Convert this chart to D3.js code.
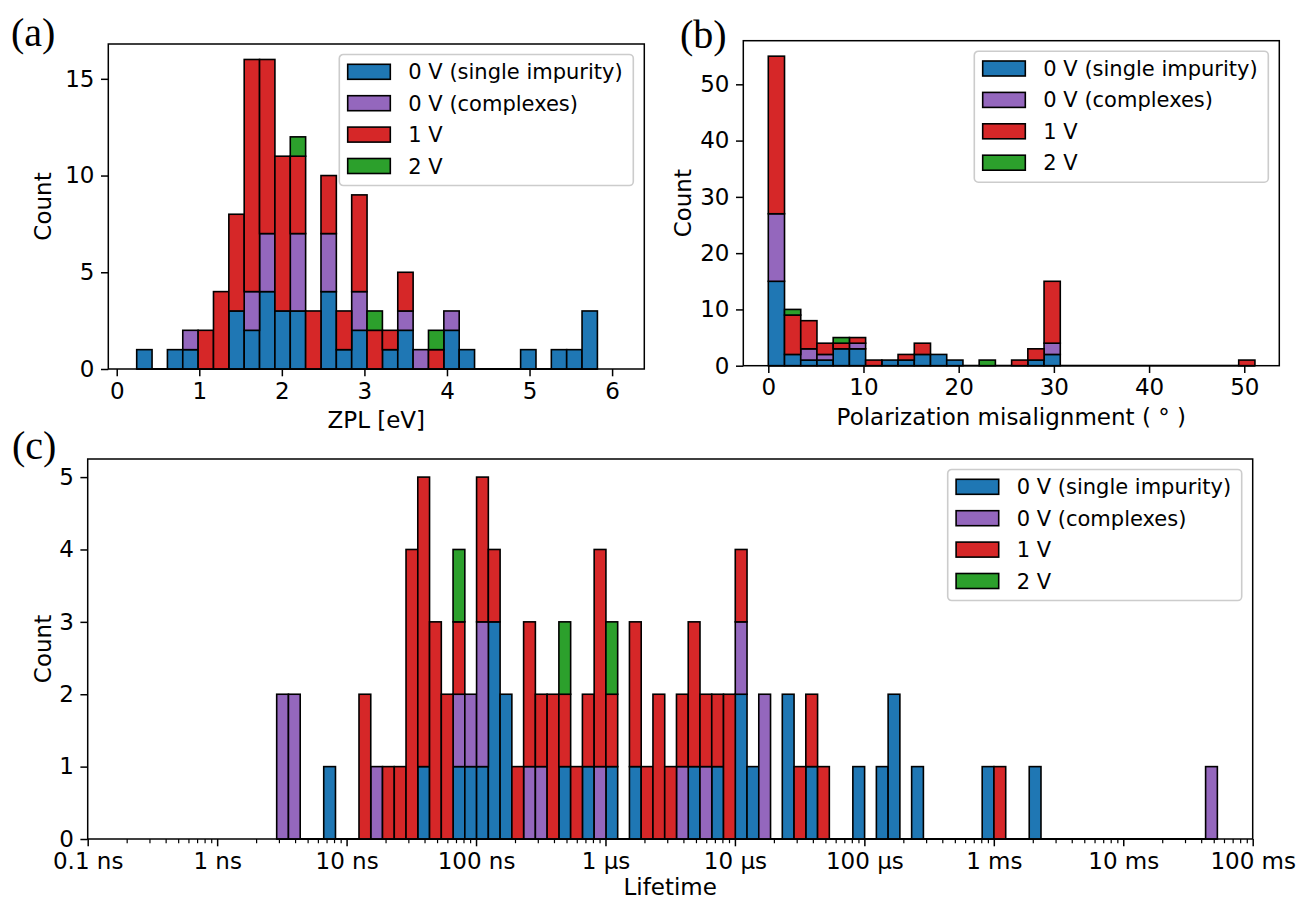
<!DOCTYPE html>
<html>
<head>
<meta charset="utf-8">
<script src="https://cdn.jsdelivr.net/npm/d3@7"></script>
<style>
  body { margin: 0; background: #fff; }
  svg text { font-family: "DejaVu Sans", sans-serif; }
</style>
</head>
<body>
<svg id="fig" width="1301" height="900"></svg>
<script>
// ---- data ----
var SERIES = ["0 V (single impurity)", "0 V (complexes)", "1 V", "2 V"];
var COLORS = ["#1f77b4", "#9467bd", "#d62728", "#2ca02c"];

// (a) ZPL histogram, 30 bins between 0.242 and 5.822 eV
var zplBins = 30, zplLo = 0.242, zplHi = 5.822;
var zplSingle  = [1,0,1,1,0,0,3,2,4,3, 3,0,4,1,2,0,1,2,0,0, 2,1,0,0,0,1,0,1,1,3];
var zplComplex = [0,0,0,1,0,0,0,2,3,0, 4,0,3,0,2,0,0,1,1,0, 1,0,0,0,0,0,0,0,0,0];
var zpl1V      = [0,0,0,0,2,4,5,12,9,8, 4,3,3,2,5,2,1,2,0,1, 0,0,0,0,0,0,0,0,0,0];
var zpl2V      = [0,0,0,0,0,0,0,0,0,0, 1,0,0,0,0,1,0,0,0,1, 0,0,0,0,0,0,0,0,0,0];
var zplXTicks = [0, 1, 2, 3, 4, 5, 6];
var zplYTicks = [0, 5, 10, 15];

// (b) polarization misalignment, 30 bins between 0 and 51.12 deg
var polBins = 30, polLo = 0, polHi = 51.12;
var polSingle  = [15,2,1,1,3,3,0,1,1,2, 2,1,0,0,0,0,1,2,0,0, 0,0,0,0,0,0,0,0,0,0];
var polComplex = [12,0,2,1,0,1,0,0,0,0, 0,0,0,0,0,0,0,2,0,0, 0,0,0,0,0,0,0,0,0,0];
var pol1V      = [28,7,5,2,1,1,1,0,1,2, 0,0,0,0,0,1,2,11,0,0, 0,0,0,0,0,0,0,0,0,1];
var pol2V      = [0,1,0,0,1,0,0,0,0,0, 0,0,0,1,0,0,0,0,0,0, 0,0,0,0,0,0,0,0,0,0];
var polXTicks = [0, 10, 20, 30, 40, 50];
var polYTicks = [0, 10, 20, 30, 40, 50];

// (c) lifetime, 80 log bins between 10^-8.540 s and 10^-1.273 s
var lifeBins = 80, lifeLogLo = -8.540, lifeLogHi = -1.273;
var lifeSingle  = [0,0,0,0,1,0,0,0,0,0, 0,0,1,0,0,1,1,1,3,2, 0,0,0,0,1,0,1,0,1,0,
                   1,0,0,0,0,1,0,1,0,2, 1,0,0,2,0,1,0,0,0,1, 0,1,2,0,1,0,0,0,0,0,
                   1,0,0,0,1,0,0,0,0,0, 0,0,0,0,0,0,0,0,0,0];
var lifeComplex = [2,2,0,0,0,0,0,0,1,0, 0,0,0,0,0,1,1,2,0,0, 0,1,1,0,0,0,0,1,0,0,
                   0,0,0,0,1,0,1,0,0,1, 0,2,0,0,0,0,0,0,0,0, 0,0,0,0,0,0,0,0,0,0,
                   0,0,0,0,0,0,0,0,0,0, 0,0,0,0,0,0,0,0,0,1];
var life1V      = [0,0,0,0,0,0,0,2,0,1, 1,4,4,3,2,1,0,2,1,0, 1,2,1,2,1,1,1,3,1,0,
                   2,1,2,1,1,2,1,1,2,1, 0,0,0,0,1,1,1,0,0,0, 0,0,0,0,0,0,0,0,0,0,
                   0,1,0,0,0,0,0,0,0,0, 0,0,0,0,0,0,0,0,0,0];
var life2V      = [0,0,0,0,0,0,0,0,0,0, 0,0,0,0,0,1,0,0,0,0, 0,0,0,0,1,0,0,0,1,0,
                   0,0,0,0,0,0,0,0,0,0, 0,0,0,0,0,0,0,0,0,0, 0,0,0,0,0,0,0,0,0,0,
                   0,0,0,0,0,0,0,0,0,0, 0,0,0,0,0,0,0,0,0,0];
var lifeXTicks = [1e-10, 1e-9, 1e-8, 1e-7, 1e-6, 1e-5, 1e-4, 1e-3, 1e-2, 1e-1];
var lifeXLabels = ["0.1 ns", "1 ns", "10 ns", "100 ns", "1 µs", "10 µs", "100 µs", "1 ms", "10 ms", "100 ms"];
var lifeYTicks = [0, 1, 2, 3, 4, 5];

// ---- drawing ----
var FS = 23;      // tick and axis labels
var FS_LEG = 21;  // legend entries
var svg = d3.select("#fig");

function styleAxis(sel) {
  sel.select(".domain").remove();
  sel.selectAll("line").attr("stroke", "#000").attr("stroke-width", 1.5);
  sel.selectAll("text").attr("fill", "#000")
    .attr("font-family", "DejaVu Sans").attr("font-size", FS);
  sel.attr("font-family", null).attr("font-size", null);
}

function panel(o) {
  var f = o.frame, x = o.x, y = o.y;
  var g = svg.append("g");
  var keys = o.series.map(function(s, k) { return "s" + k; });
  var rows = d3.range(o.edges.length - 1).map(function(i) {
    var r = { x0: o.edges[i], x1: o.edges[i + 1] };
    o.series.forEach(function(s, k) { r["s" + k] = s[i]; });
    return r;
  });
  var layers = d3.stack().keys(keys)(rows);

  // empty bins leave a black edge along the baseline
  g.append("line")
    .attr("x1", x(o.edges[0])).attr("x2", x(o.edges[o.edges.length - 1]))
    .attr("y1", y(0)).attr("y2", y(0))
    .attr("stroke", "#000").attr("stroke-width", 1.8);

  layers.forEach(function(layer, k) {
    g.append("g").selectAll("rect")
      .data(layer.filter(function(d) { return d[1] > d[0]; }))
      .join("rect")
      .attr("x", function(d) { return x(d.data.x0); })
      .attr("width", function(d) { return x(d.data.x1) - x(d.data.x0); })
      .attr("y", function(d) { return y(d[1]); })
      .attr("height", function(d) { return y(d[0]) - y(d[1]); })
      .attr("fill", COLORS[k]).attr("stroke", "#000").attr("stroke-width", 1.6);
  });

  // axes
  var xAxis = d3.axisBottom(x).tickValues(o.xTicks).tickSize(7.3).tickPadding(6)
    .tickFormat(o.xFormat || d3.format("d"));
  g.append("g").attr("transform", "translate(0," + f.b + ")").call(xAxis).call(styleAxis);
  if (o.xMinor) {
    g.append("g").attr("transform", "translate(0," + f.b + ")")
      .call(d3.axisBottom(x).tickValues(o.xMinor).tickSize(4.2).tickFormat(""))
      .call(styleAxis)
      .selectAll("line").attr("stroke-width", 1.2);
  }
  var yAxis = d3.axisLeft(y).tickValues(o.yTicks).tickSize(7.3).tickPadding(6.5)
    .tickFormat(d3.format("d"));
  g.append("g").attr("transform", "translate(" + f.l + ",0)").call(yAxis).call(styleAxis);

  // frame
  g.append("rect")
    .attr("x", f.l).attr("y", f.t).attr("width", f.r - f.l).attr("height", f.b - f.t)
    .attr("fill", "none").attr("stroke", "#000").attr("stroke-width", 1.5);

  // axis labels
  g.append("text").attr("x", (f.l + f.r) / 2).attr("y", f.b + o.xLabelDy)
    .attr("text-anchor", "middle").attr("font-size", FS).text(o.xLabel);
  g.append("text")
    .attr("transform", "translate(" + o.yLabelX + "," + ((f.t + f.b) / 2) + ") rotate(-90)")
    .attr("text-anchor", "middle").attr("font-size", FS).text("Count");

  // panel tag
  g.append("text").attr("x", o.tag[1]).attr("y", o.tag[2])
    .style("font-family", "'Liberation Serif', 'Times New Roman', serif")
    .attr("font-size", 40).text(o.tag[0]);

  // legend
  var lw = 294, lh = 131;
  var lg = g.append("g").attr("transform", "translate(" + (f.r - 11 - lw) + "," + (f.t + 10.5) + ")");
  lg.append("rect").attr("width", lw).attr("height", lh).attr("rx", 4)
    .attr("fill", "#fff").attr("fill-opacity", 0.8)
    .attr("stroke", "#cccccc").attr("stroke-width", 1.6);
  var item = lg.selectAll("g.item").data(SERIES).join("g")
    .attr("transform", function(d, i) { return "translate(0," + (17.3 + i * 31.4) + ")"; });
  item.append("rect").attr("x", 8.4).attr("y", -7.5).attr("width", 42.6).attr("height", 15)
    .attr("fill", function(d, i) { return COLORS[i]; })
    .attr("stroke", "#000").attr("stroke-width", 1.6);
  item.append("text").attr("x", 69).attr("dy", "0.36em").attr("font-size", FS_LEG)
    .text(function(d) { return d; });
}

// (a)
var fa = { l: 108.3, t: 44, r: 644.3, b: 369 };
panel({
  frame: fa,
  x: d3.scaleLinear().domain([-0.102, 6.39]).range([fa.l, fa.r]),
  y: d3.scaleLinear().domain([0, 16.8]).range([fa.b, fa.t]),
  edges: d3.range(zplBins + 1).map(function(i) { return zplLo + i * (zplHi - zplLo) / zplBins; }),
  series: [zplSingle, zplComplex, zpl1V, zpl2V],
  xTicks: zplXTicks, yTicks: zplYTicks,
  xLabel: "ZPL [eV]", xLabelDy: 59, yLabelX: 51,
  tag: ["(a)", 11, 46]
});

// (b)
var fb = { l: 743.3, t: 40.7, r: 1279.3, b: 365.7 };
panel({
  frame: fb,
  x: d3.scaleLinear().domain([-2.626, 53.68]).range([fb.l, fb.r]),
  y: d3.scaleLinear().domain([0, 57.75]).range([fb.b, fb.t]),
  edges: d3.range(polBins + 1).map(function(i) { return polLo + i * (polHi - polLo) / polBins; }),
  series: [polSingle, polComplex, pol1V, pol2V],
  xTicks: polXTicks, yTicks: polYTicks,
  xLabel: "Polarization misalignment ( ° )", xLabelDy: 59, yLabelX: 691,
  tag: ["(b)", 680, 48]
});

// (c)
var fc = { l: 87.7, t: 459, r: 1252.7, b: 839 };
var lifeMinor = [];
d3.range(-10, -1).forEach(function(e) {
  d3.range(2, 10).forEach(function(m) { lifeMinor.push(m * Math.pow(10, e)); });
});
panel({
  frame: fc,
  x: d3.scaleLog().domain([1e-10, 1e-1]).range([fc.l, fc.r]),
  y: d3.scaleLinear().domain([0, 5.25]).range([fc.b, fc.t]),
  edges: d3.range(lifeBins + 1).map(function(i) {
    return Math.pow(10, lifeLogLo + i * (lifeLogHi - lifeLogLo) / lifeBins);
  }),
  series: [lifeSingle, lifeComplex, life1V, life2V],
  xTicks: lifeXTicks, yTicks: lifeYTicks,
  xFormat: function(d, i) { return lifeXLabels[i]; },
  xMinor: lifeMinor,
  xLabel: "Lifetime", xLabelDy: 56, yLabelX: 51,
  tag: ["(c)", 12, 459]
});
</script>
</body>
</html>
